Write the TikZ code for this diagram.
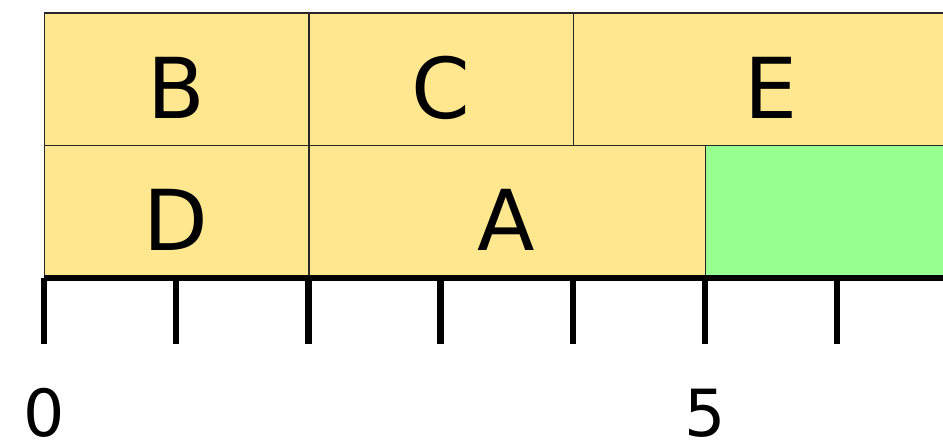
\documentclass[tikz,border=0pt]{standalone}
\usepackage{fontspec}
\setmainfont{DejaVu Sans}
\definecolor{cellyellow}{HTML}{FFE78F}
\definecolor{cellgreen}{HTML}{96FF90}
\tikzset{
  cell/.style={draw=black!85, line width=1.3pt, inner sep=0pt, anchor=south west, minimum height=132.2pt},
  yel/.style={cell, fill=cellyellow},
  grn/.style={cell, fill=cellgreen},
  lab/.style={anchor=base, inner sep=0pt, font=\fontsize{84}{100}\selectfont},
  num/.style={anchor=base, inner sep=0pt, font=\fontsize{65}{78}\selectfont},
  axisline/.style={line width=6.5pt, black},
  tickmark/.style={line width=6.5pt, black}
}
\begin{document}
\begin{tikzpicture}[x=132.2pt, y=132.2pt]
\useasboundingbox (-44pt,-162pt) rectangle (899pt,278pt);
\clip (-44pt,-162pt) rectangle (899pt,278pt);
% bottom row
\node[yel, minimum width=264.4pt] (D) at (0,0) {};
\node[yel, minimum width=396.6pt] (A) at (2,0) {};
\node[grn, minimum width=264.4pt] (G) at (5,0) {};
% top row
\node[yel, minimum width=264.4pt] (B) at (0,1) {};
\node[yel, minimum width=264.4pt] (C) at (2,1) {};
\node[yel, minimum width=396.6pt] (E) at (4,1) {};
% labels
\node[lab] (lB) at (1,1.207) {B};
\node[lab] (lC) at (3,1.207) {C};
\node[lab] (lE) at (5.5,1.207) {E};
\node[lab] (lD) at (1,0.207) {D};
\node[lab] (lA) at (3.5,0.207) {A};
% axis
\coordinate (o) at (0,0);
\coordinate (end) at (7,0);
\draw[axisline] (o) -- (end);
\foreach \i in {0,...,6} {
  \coordinate (t\i) at (\i,0);
  \coordinate (b\i) at (\i,-0.5);
  \draw[tickmark] (t\i) -- (b\i);
}
\node[num] (n0) at (0,-1.2) {0};
\node[num] (n5) at (5,-1.2) {5};
\end{tikzpicture}
\end{document}
